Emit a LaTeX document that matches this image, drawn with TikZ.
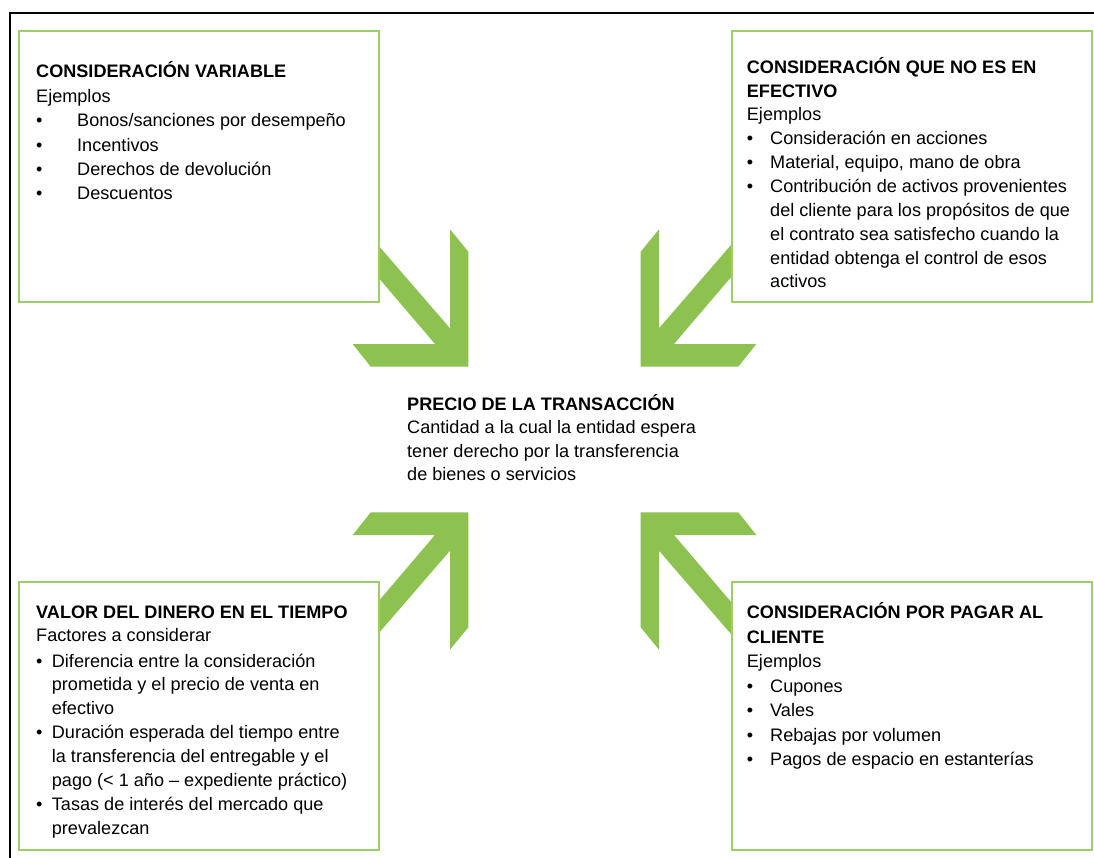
\documentclass[tikz,border=0pt]{standalone}
\usepackage{fontspec}
\setmainfont{Liberation Sans}
\definecolor{arrowgreen}{RGB}{141,194,80}
\definecolor{boxgreen}{RGB}{158,206,106}
\newcommand\bul[1]{\makebox[#1][l]{\textbullet}}
\newcommand\gap[1]{\noalign{\vskip #1}}
\newcommand\GreenBentArrow{%
  \fill[arrowgreen] (-214.5,-238.5) -- (-104.5,-111.2) -- (-104.5,-210.2) -- (-86.2,-187.8)
    -- (-86.2,-72.8) -- (-183.8,-72.8) -- (-201.8,-95.5) -- (-119.5,-95.5) -- (-214.5,-206.9) -- cycle;}
\begin{document}
\begin{tikzpicture}[x=1pt,y=-1pt,
  box/.style={draw=boxgreen, line width=1.8pt, fill=white, anchor=north west, inner sep=0pt, minimum width=360pt},
  txt/.style={anchor=base west, inner sep=0pt}]
\useasboundingbox (0,0) rectangle (1094,858);
\fill[white] (0,0) rectangle (1094,858);
\draw[line width=2pt] (10,858) -- (10,13) -- (1094,13);

% arrows
\begin{scope}[shift={(554.5,439.5)}]\GreenBentArrow\end{scope}
\begin{scope}[shift={(554.5,439.5)},xscale=-1]\GreenBentArrow\end{scope}
\begin{scope}[shift={(554.5,439.5)},yscale=-1]\GreenBentArrow\end{scope}
\begin{scope}[shift={(554.5,439.5)},xscale=-1,yscale=-1]\GreenBentArrow\end{scope}

% boxes
\node[box, minimum height=271pt] (tlbox) at (18,30) {};
\node[box, minimum height=271pt] (trbox) at (731,30) {};
\node[box, minimum height=268pt] (blbox) at (18,581) {};
\node[box, minimum height=268pt] (brbox) at (731,581) {};

% texts
\node[txt, font=\fontsize{18.1}{24.4}\selectfont] (tltext) at (36,78) {\begin{tabular}[t]{@{}l@{}l@{}}
\multicolumn{2}{@{}l@{}}{\bfseries CONSIDERACIÓN VARIABLE}\\
\multicolumn{2}{@{}l@{}}{Ejemplos}\\
\bul{41pt} & Bonos/sanciones por desempeño\\
\bul{41pt} & Incentivos\\
\bul{41pt} & Derechos de devolución\\
\bul{41pt} & Descuentos
\end{tabular}};

\node[txt, font=\fontsize{18.1}{23.85}\selectfont] (trtext) at (746.7,73.3) {\begin{tabular}[t]{@{}l@{}l@{}}
\multicolumn{2}{@{}l@{}}{\bfseries CONSIDERACIÓN QUE NO ES EN}\\
\multicolumn{2}{@{}l@{}}{\bfseries EFECTIVO}\\
\multicolumn{2}{@{}l@{}}{Ejemplos}\\
\bul{23.3pt} & Consideración en acciones\\
\bul{23.3pt} & Material, equipo, mano de obra\\
\bul{23.3pt} & Contribución de activos provenientes\\
 & del cliente para los propósitos de que\\
 & el contrato sea satisfecho cuando la\\
 & entidad obtenga el control de esos\\
 & activos
\end{tabular}};

\node[txt, font=\fontsize{18.1}{23.6}\selectfont] (center) at (407,410) {\begin{tabular}[t]{@{}l@{}}
\bfseries PRECIO DE LA TRANSACCIÓN\\
Cantidad a la cual la entidad espera\\
tener derecho por la transferencia\\
de bienes o servicios
\end{tabular}};

\node[txt, font=\fontsize{18.1}{23.9}\selectfont] (bltext) at (36,618) {\begin{tabular}[t]{@{}l@{}l@{}}
\multicolumn{2}{@{}l@{}}{\bfseries VALOR DEL DINERO EN EL TIEMPO}\\ \gap{-0.9pt}
\multicolumn{2}{@{}l@{}}{Factores a considerar}\\ \gap{2.1pt}
\bul{15.7pt} & Diferencia entre la consideración\\
 & prometida y el precio de venta en\\
 & efectivo\\
\bul{15.7pt} & Duración esperada del tiempo entre\\
 & la transferencia del entregable y el\\
 & pago (< 1 año – expediente práctico)\\
\bul{15.7pt} & Tasas de interés del mercado que\\
 & prevalezcan
\end{tabular}};

\node[txt, font=\fontsize{18.1}{24.5}\selectfont] (brtext) at (746.7,618.5) {\begin{tabular}[t]{@{}l@{}l@{}}
\multicolumn{2}{@{}l@{}}{\bfseries CONSIDERACIÓN POR PAGAR AL}\\
\multicolumn{2}{@{}l@{}}{\bfseries CLIENTE}\\
\multicolumn{2}{@{}l@{}}{Ejemplos}\\
\bul{23.3pt} & Cupones\\
\bul{23.3pt} & Vales\\
\bul{23.3pt} & Rebajas por volumen\\
\bul{23.3pt} & Pagos de espacio en estanterías
\end{tabular}};
\end{tikzpicture}
\end{document}
